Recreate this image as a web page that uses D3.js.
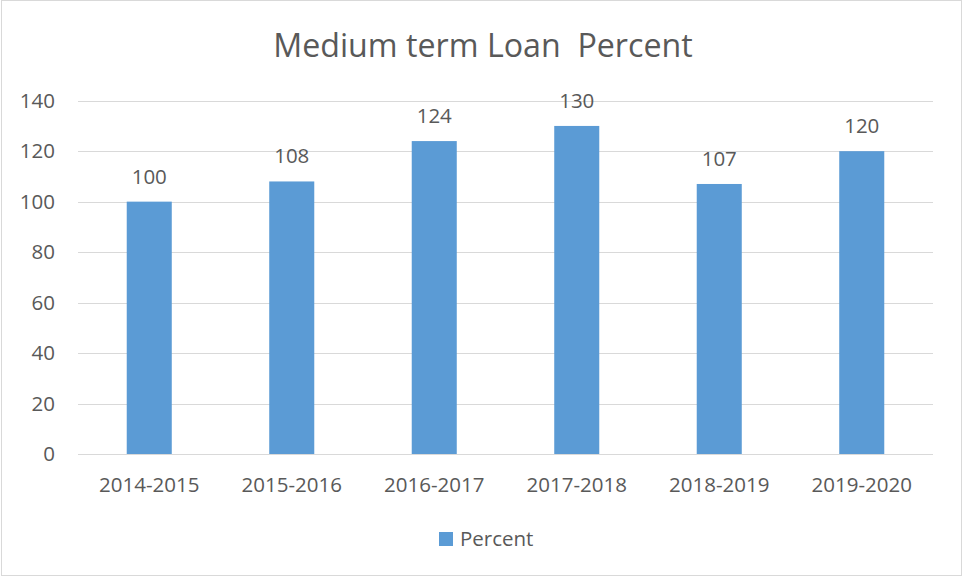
<!DOCTYPE html>
<html><head><meta charset="utf-8">
<script src="https://cdn.jsdelivr.net/npm/d3@7"></script>
<style>body{margin:0;background:#fff}text{font-family:"Open Sans",sans-serif;fill:#595959;white-space:pre}</style>
</head><body><svg id="c" width="964" height="577"></svg>
<script>
const categories = ["2014-2015","2015-2016","2016-2017","2017-2018","2018-2019","2019-2020"];
const values = [100,108,124,130,107,120];
const yTicks = [0,20,40,60,80,100,120,140];
const seriesName = "Percent";
const title = "Medium term Loan  Percent";

const svg = d3.select("#c");
svg.append("rect").attr("x",1.5).attr("y",0.5).attr("width",960).attr("height",575)
  .attr("fill","#fff").attr("stroke","#d9d9d9");
const x = d3.scaleBand().domain(categories).range([78,933]).paddingInner(0.684).paddingOuter(0.342);
const y = d3.scaleLinear().domain([0,140]).range([454,100.7]);

svg.append("text").attr("x",483).attr("y",57).attr("text-anchor","middle")
  .attr("xml:space","preserve").style("font-size","32.2px").text(title);

const g = svg.append("g");
g.selectAll("line.grid").data(yTicks).enter().append("line")
  .attr("x1",78).attr("x2",933).attr("y1",d=>Math.round(y(d))+0.5).attr("y2",d=>Math.round(y(d))+0.5)
  .attr("stroke","#d9d9d9").attr("stroke-width",1);
g.selectAll("text.yt").data(yTicks).enter().append("text")
  .attr("x",55).attr("y",d=>y(d)+7).attr("text-anchor","end").style("font-size","20.5px").text(d=>d);

g.selectAll("rect.bar").data(values).enter().append("rect")
  .attr("x",(d,i)=>x(categories[i])).attr("width",x.bandwidth())
  .attr("y",d=>y(d)).attr("height",d=>y(0)-y(d)).attr("fill","#5b9bd5");
g.selectAll("text.lab").data(values).enter().append("text")
  .attr("x",(d,i)=>x(categories[i])+x.bandwidth()/2).attr("y",d=>y(d)-18)
  .attr("text-anchor","middle").style("font-size","20.5px").text(d=>d);
g.selectAll("text.xt").data(categories).enter().append("text")
  .attr("x",d=>x(d)+x.bandwidth()/2).attr("y",492).attr("text-anchor","middle")
  .style("font-size","20.5px").text(d=>d);

svg.append("rect").attr("x",439).attr("y",532).attr("width",14).attr("height",14).attr("fill","#5b9bd5");
svg.append("text").attr("x",460).attr("y",546).style("font-size","20.5px").text(seriesName);
</script></body></html>
